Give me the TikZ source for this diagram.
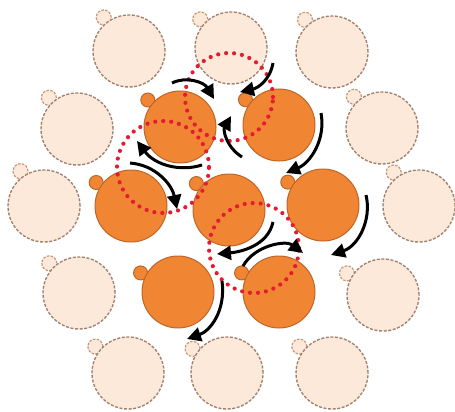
\documentclass[tikz,border=0pt]{standalone}
\usetikzlibrary{arrows.meta,calc}

\definecolor{paleFill}{RGB}{253,233,218}
\definecolor{paleLine}{RGB}{160,128,110}
\definecolor{paleSmallLine}{RGB}{200,150,115}
\definecolor{coreFill}{RGB}{240,134,52}
\definecolor{coreLine}{RGB}{190,102,42}
\definecolor{loopRed}{RGB}{228,28,50}

\tikzset{
  palebody/.style={circle, minimum size=72pt, inner sep=0pt, fill=paleFill,
    draw=paleLine, line width=1.35pt, dash pattern=on 3pt off 1.6pt},
  palehead/.style={circle, minimum size=15pt, inner sep=0pt, fill=paleFill,
    draw=paleSmallLine, line width=1.2pt, dash pattern=on 2.5pt off 1.4pt},
  corebody/.style={circle, minimum size=72pt, inner sep=0pt, fill=coreFill,
    draw=coreLine, line width=1pt},
  corehead/.style={circle, minimum size=14pt, inner sep=0pt, fill=coreFill,
    draw=coreLine, line width=1pt},
  redloop/.style={circle, minimum size=90pt, inner sep=0pt, draw=loopRed,
    line width=4.2pt, line cap=round, dash pattern=on 0pt off 8pt},
  turn/.style={line width=3pt, draw=black,
    -{Triangle[length=14pt,width=14pt]}}
}

% a cell: big disc plus the small disc on its rim
\newcommand\palecell[4]{%
  \node[palehead] (#1h) at ($(#2,#3)+(#4:42pt)$) {};
  \node[palebody] (#1) at (#2,#3) {};}
\newcommand\corecell[4]{%
  \node[corehead] (#1h) at ($(#2,#3)+(#4:42pt)$) {};
  \node[corebody] (#1) at (#2,#3) {};}

\begin{document}
\begin{tikzpicture}[x=1pt,y=-1pt]
\useasboundingbox (0,0) rectangle (455,412);

% outer ring of pale cells
\palecell{p1}{129}{51}{127}
\palecell{p2}{231}{48}{137}
\palecell{p3}{332}{52}{130}
\palecell{p4}{77}{129}{132}
\palecell{p5}{382}{128}{132}
\palecell{p6}{44}{206}{124}
\palecell{p7}{419}{206}{127}
\palecell{p8}{79}{293}{135}
\palecell{p9}{383}{295}{149}
\palecell{p10}{128}{373}{141}
\palecell{p11}{227}{373}{145}
\palecell{p12}{332}{373}{141}

% inner orange cells
\corecell{c1}{180}{127}{140}
\corecell{c2}{279}{125}{143}
\corecell{c3}{131}{206}{146}
\corecell{c4}{229}{210}{141}
\corecell{c5}{323}{205}{147}
\corecell{c6}{178}{292}{153}
\corecell{c7}{279}{292}{153}

% red dotted loops
\node[redloop, minimum size=88pt] (r1) at (229,97) {};
\node[redloop, minimum size=92pt] (r2) at (163,167) {};
\node[redloop, minimum size=90pt] (r3) at (254,248) {};

% arrow end points
\coordinate (a1s) at (172,83);  \coordinate (a1e) at (214,99);
\coordinate (a2s) at (273,63);  \coordinate (a2e) at (240,92);
\coordinate (a3s) at (242,157); \coordinate (a3e) at (231,116);
\coordinate (a4s) at (321,113); \coordinate (a4e) at (286,173);
\coordinate (a5s) at (202,165); \coordinate (a5e) at (137,141);
\coordinate (a6s) at (130,163); \coordinate (a6e) at (177,209);
\coordinate (a7s) at (366,195); \coordinate (a7e) at (331,255);
\coordinate (a8s) at (273,222); \coordinate (a8e) at (217,254);
\coordinate (a9s) at (243,266); \coordinate (a9e) at (303,253);
\coordinate (a10s) at (222,281); \coordinate (a10e) at (187,339);

% rotation arrows
\draw[turn] (a1s) .. controls (186,76) and (204,82) .. (a1e);
\draw[turn] (a2s) .. controls (270,80) and (258,88) .. (a2e);
\draw[turn] (a3s) .. controls (226,147) and (223,130) .. (a3e);
\draw[turn] (a4s) .. controls (326,140) and (310,163) .. (a4e);
\draw[turn] (a5s) .. controls (180,172) and (155,165) .. (a5e);
\draw[turn] (a6s) .. controls (156,165) and (172,185) .. (a6e);
\draw[turn] (a7s) .. controls (372,220) and (358,246) .. (a7e);
\draw[turn] (a8s) .. controls (268,246) and (240,252) .. (a8e);
\draw[turn] (a9s) .. controls (255,245) and (286,240) .. (a9e);
\draw[turn] (a10s) .. controls (226,311) and (210,331) .. (a10e);
\end{tikzpicture}
\end{document}
